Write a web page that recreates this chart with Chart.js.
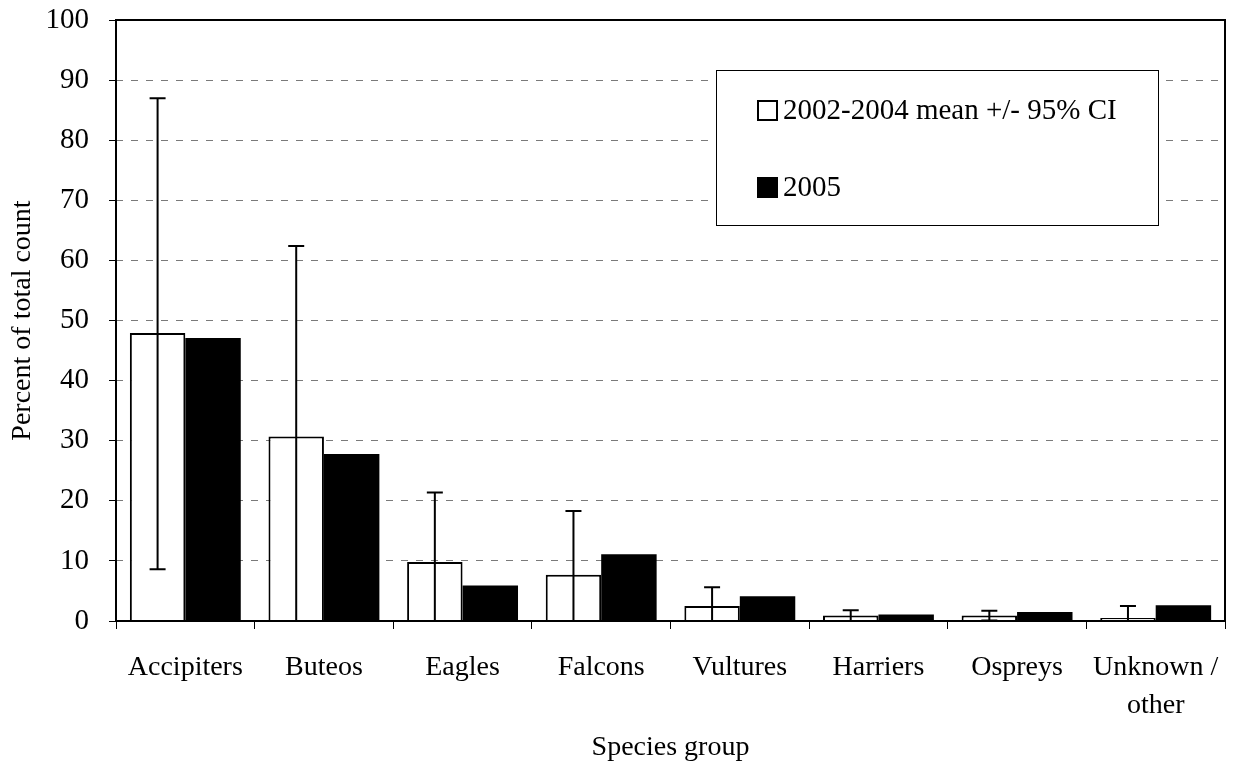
<!DOCTYPE html>
<html>
<head>
<meta charset="utf-8">
<script src="https://cdn.jsdelivr.net/npm/chart.js@4"></script>
<style>
  html, body { margin: 0; padding: 0; background: #fff; }
  #wrap { width: 1233px; height: 772px; }
</style>
</head>
<body>
<div id="wrap"><canvas id="raptorChart" width="1233" height="772"></canvas></div>
<script>
// species groups (x categories)
const groups = ['Accipiters', 'Buteos', 'Eagles', 'Falcons', 'Vultures', 'Harriers', 'Ospreys', ['Unknown /', 'other']];
// 2002-2004 mean and its 95% CI
const mean0204 = [47.9, 30.7, 9.8, 7.7, 2.5, 0.9, 0.9, 0.5];
const ciHigh = [87.0, 62.4, 21.4, 18.3, 5.6, 1.8, 1.7, 2.5];
const ciLow = [8.6, -1.0, -1.8, -2.9, -0.6, -0.1, 0.1, -1.5];
// 2005 season
const val2005 = [47.1, 27.8, 5.9, 11.1, 4.1, 1.1, 1.5, 2.6];
const yTicks = [0, 10, 20, 30, 40, 50, 60, 70, 80, 90, 100];

const serif = '"Liberation Serif", "Times New Roman", serif';
const fs = 28;

// error bars on the first series, then the plot frame
const errorBars = {
  id: 'errorBars',
  afterDatasetsDraw(chart) {
    const { ctx, chartArea: a, scales: { y } } = chart;
    const meta = chart.getDatasetMeta(0);
    ctx.save();
    ctx.beginPath();
    ctx.rect(a.left, a.top, a.right - a.left, a.bottom - a.top);
    ctx.clip();
    ctx.strokeStyle = '#000';
    ctx.lineWidth = 2;
    meta.data.forEach((bar, i) => {
      const x = bar.x;
      const yHi = y.getPixelForValue(ciHigh[i]);
      const yLo = y.getPixelForValue(ciLow[i]);
      ctx.beginPath();
      ctx.moveTo(x, yHi);
      ctx.lineTo(x, yLo);
      ctx.moveTo(x - 8, yHi);
      ctx.lineTo(x + 8, yHi);
      if (ciLow[i] > 0) {
        ctx.moveTo(x - 8, yLo);
        ctx.lineTo(x + 8, yLo);
      }
      ctx.stroke();
    });
    ctx.restore();

    ctx.save();
    ctx.strokeStyle = '#000';
    ctx.lineWidth = 2;
    ctx.strokeRect(a.left, a.top, a.right - a.left, a.bottom - a.top);
    ctx.restore();
  }
};

const boxLegend = {
  id: 'boxLegend',
  afterDraw(chart) {
    const { ctx } = chart;
    const items = chart.data.datasets.map(d => d.label);
    ctx.save();
    ctx.fillStyle = '#fff';
    ctx.fillRect(716, 70, 442, 155);
    ctx.strokeStyle = '#000';
    ctx.lineWidth = 1;
    ctx.strokeRect(716.5, 70.5, 442, 155);
    ctx.font = '29px ' + serif;
    ctx.textBaseline = 'middle';
    items.forEach((label, i) => {
      const cy = 110 + i * 77;
      if (i === 0) {
        ctx.lineWidth = 2;
        ctx.strokeRect(758, cy - 9, 19, 19);
      } else {
        ctx.fillStyle = '#000';
        ctx.fillRect(757, cy - 10, 21, 21);
      }
      ctx.fillStyle = '#000';
      ctx.fillText(label, 783, cy + 1);
    });
    ctx.restore();
  }
};

new Chart(document.getElementById('raptorChart').getContext('2d'), {
  type: 'bar',
  data: {
    labels: groups,
    datasets: [
      { label: '2002-2004 mean +/- 95% CI', data: mean0204, backgroundColor: '#fff', borderColor: '#000', borderWidth: 2 },
      { label: '2005', data: val2005, backgroundColor: '#000', borderColor: '#000', borderWidth: 0 }
    ]
  },
  options: {
    responsive: false,
    animation: false,
    events: [],
    layout: { padding: { top: 20, right: 8, left: 0, bottom: 0 } },
    datasets: { bar: { categoryPercentage: 0.8, barPercentage: 1.0 } },
    plugins: { legend: { display: false }, tooltip: { enabled: false } },
    scales: {
      x: {
        grid: { display: true, drawOnChartArea: false, offset: true, tickLength: 8, tickColor: '#000', tickWidth: 1 },
        border: { display: false },
        ticks: { color: '#000', padding: 20, maxRotation: 0, autoSkip: false, font: { family: serif, size: fs, lineHeight: 1.35 } },
        title: { display: true, text: 'Species group', color: '#000', padding: { top: 12, bottom: 8 }, font: { family: serif, size: fs } },
        afterFit(s) { s.height = 151; s.paddingLeft = 0; s.paddingRight = 0; }
      },
      y: {
        min: 0,
        max: 100,
        afterBuildTicks(s) { s.ticks = yTicks.map(v => ({ value: v })); },
        grid: { color: '#7a7a7a', lineWidth: 1, tickLength: 7, tickColor: '#000', tickBorderDash: [] },
        border: { display: false, dash: [7, 8] },
        ticks: { color: '#000', padding: 20, font: { family: serif, size: 29 } },
        title: { display: true, text: 'Percent of total count', color: '#000', padding: { top: 6, bottom: 0 }, font: { family: serif, size: fs } },
        afterFit(s) { s.width = 116; s.paddingTop = 0; s.paddingBottom = 0; }
      }
    }
  },
  plugins: [errorBars, boxLegend]
});
</script>
</body>
</html>
